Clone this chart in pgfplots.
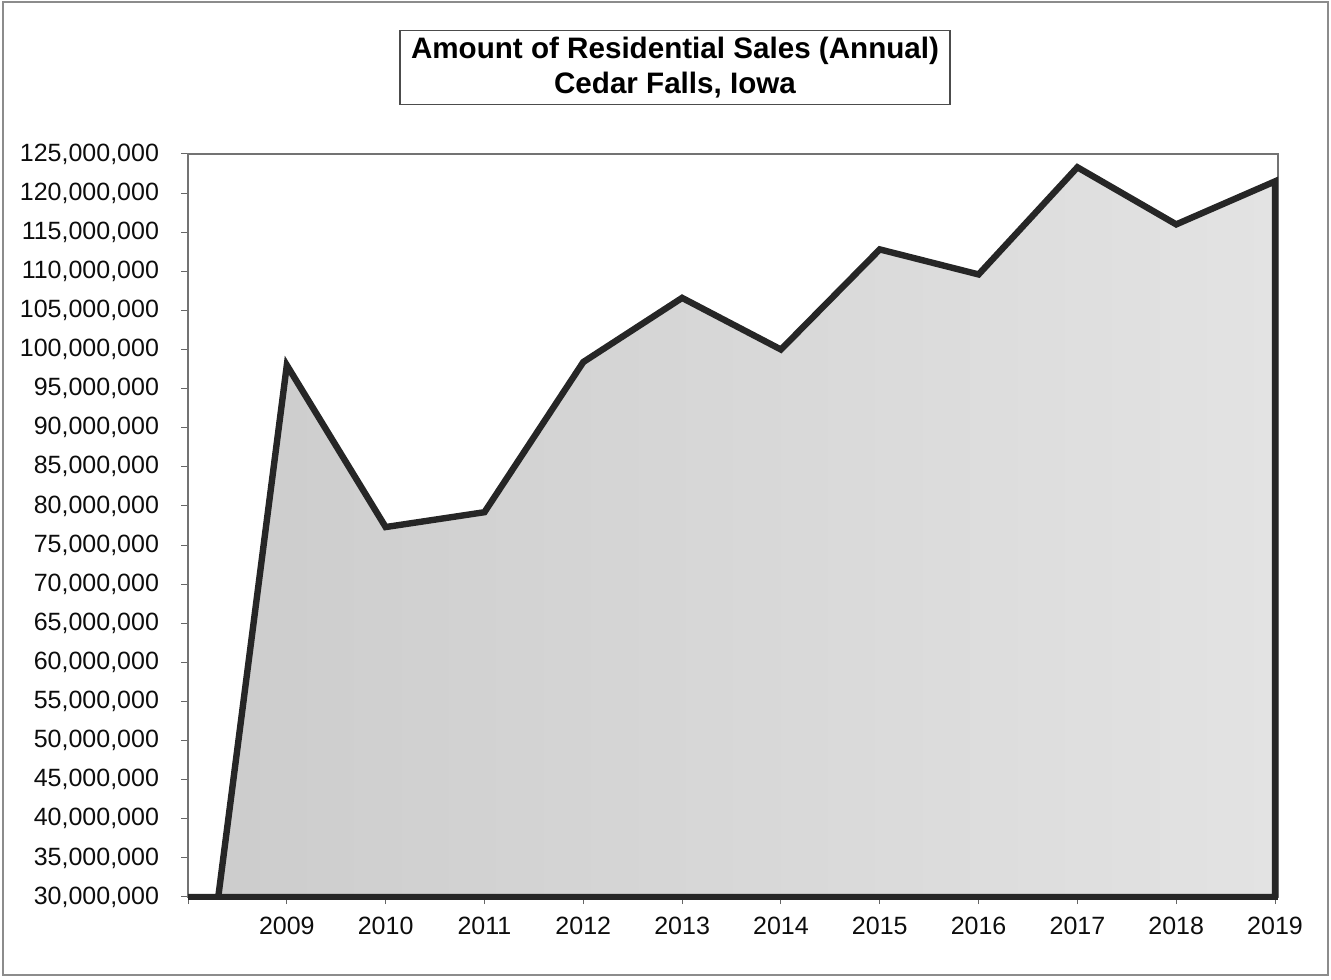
\documentclass[border=0pt]{standalone}
\usepackage{pgfplots}
\pgfplotsset{compat=1.18}
\usepackage{fontspec}
\setmainfont{Liberation Sans}
\begin{document}
\begin{tikzpicture}
\useasboundingbox (0,0) rectangle (665.5pt,489.5pt);
\draw[black!45, line width=0.8pt] (1.5pt,2pt) rectangle (664pt,488.5pt);
\begin{axis}[
  scale only axis,
  width=545pt, height=371.5pt,
  at={(94pt,41pt)}, anchor=south west,
  xmin=0, xmax=11.03,
  ymin=30000000, ymax=125000000,
  xtick={0,1,2,3,4,5,6,7,8,9,10,11},
  xticklabels={,2009,2010,2011,2012,2013,2014,2015,2016,2017,2018,2019},
  ytick={30000000,35000000,40000000,45000000,50000000,55000000,60000000,65000000,70000000,75000000,80000000,85000000,90000000,95000000,100000000,105000000,110000000,115000000,120000000,125000000},
  scaled y ticks=false,
  /pgf/number format/fixed,
  /pgf/number format/precision=0,
  /pgf/number format/1000 sep={,},
  /pgf/number format/assume math mode=true,
  tick label style={font=\fontsize{12.5}{14}\selectfont, text=black!95},
  xticklabel style={yshift=-3pt},
  yticklabel style={xshift=-7.5pt},
  tick align=outside,
  major tick length=3.5pt,
  tick style={black!60, line width=0.5pt},
  xtick pos=bottom, ytick pos=left,
  axis line style={black!55, line width=0.6pt},
  title={Amount of Residential Sales (Annual)\\Cedar Falls, Iowa},
  title style={at={(0.4468,1.1002)}, anchor=center, draw=black!70, line width=0.7pt,
    align=center, font=\bfseries\fontsize{14.8}{17.5}\selectfont,
    minimum width=275pt, minimum height=37pt, inner sep=2pt},
  after end axis/.code={
    \draw[black!85, line width=3pt] (rel axis cs:0,0) -- (rel axis cs:1,0);
  },
]
\addplot[draw=black!85, line width=3.2pt, line join=miter, left color=black!20, right color=black!11]
  coordinates {
  (0,0)
  (1,98000000)
  (2,77300000)
  (3,79200000)
  (4,98400000)
  (5,106600000)
  (6,100000000)
  (7,112800000)
  (8,109600000)
  (9,123300000)
  (10,116000000)
  (11,121500000)
  } \closedcycle;
\end{axis}
\end{tikzpicture}
\end{document}
